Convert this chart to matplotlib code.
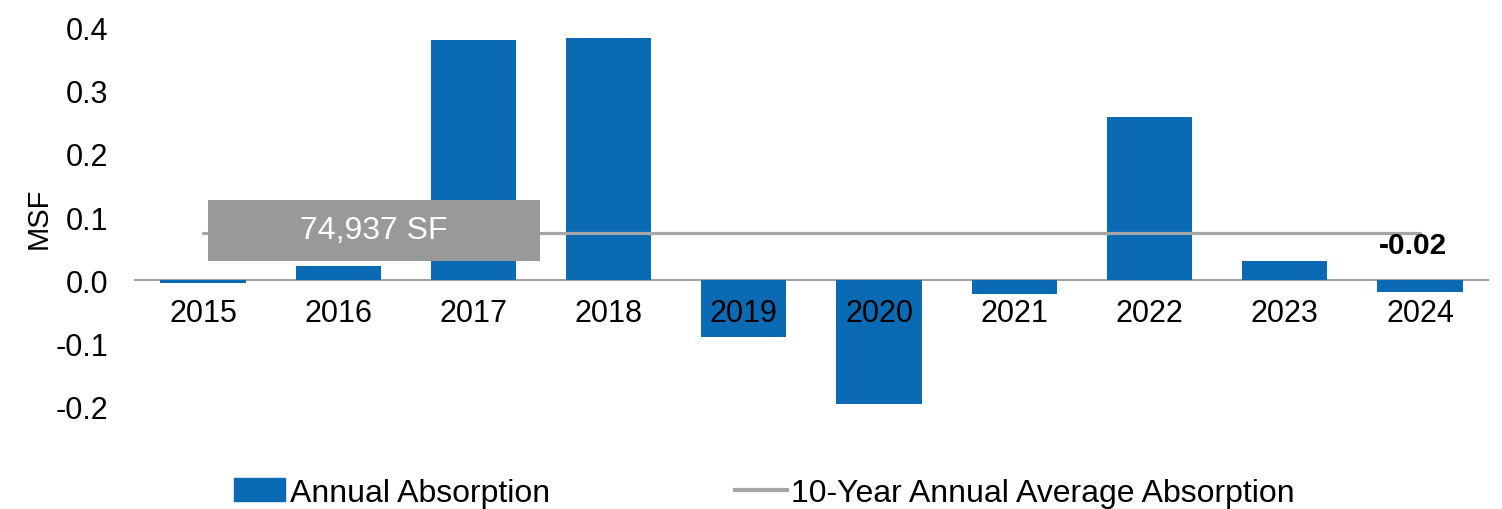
import matplotlib.pyplot as plt
import matplotlib.patches as mpatches
from matplotlib.lines import Line2D
import numpy as np

plt.rcParams['font.family'] = ['Liberation Sans', 'DejaVu Sans']

years = ['2015', '2016', '2017', '2018', '2019', '2020', '2021', '2022', '2023', '2024']
absorption = [-0.004, 0.023, 0.379, 0.382, -0.090, -0.196, -0.022, 0.258, 0.031, -0.018]
avg_sf = 74937
avg_msf = avg_sf / 1e6

blue = '#0A6AB4'
gray = '#A6A6A6'

fig = plt.figure(figsize=(15.02, 5.10), dpi=100)
ax = fig.add_axes([0.0901, 0.2, 0.9003, 0.745])

x = np.arange(len(years))
ax.bar(x, absorption, width=0.63, color=blue, zorder=2)
ax.plot(x, [avg_msf] * len(x), color=gray, lw=2.3, solid_capstyle='round', zorder=3)

# label box for the average line
ax.add_patch(mpatches.Rectangle((0.04, avg_msf - 0.044), 2.45, 0.096,
                                facecolor='#999999', edgecolor='none', zorder=4))
ax.text(1.26, avg_msf + 0.004, f'{avg_sf:,} SF', color='white', fontsize=23,
        ha='center', va='center', zorder=5)

# data label for the last year
ax.text(x[-1] - 0.05, 0.033, f'{absorption[-1]:.2f}', fontsize=21.5, fontweight='bold',
        ha='center', va='bottom', zorder=5)

ax.set_xlim(-0.5, len(years) - 0.5)
ax.set_ylim(-0.2, 0.4)
ax.set_yticks([-0.2, -0.1, 0.0, 0.1, 0.2, 0.3, 0.4])
ax.set_yticklabels([f'{v:.1f}' for v in [-0.2, -0.1, 0.0, 0.1, 0.2, 0.3, 0.4]])
ax.set_xticks(x)
ax.set_xticklabels(years)
ax.set_axisbelow(False)

for s in ['top', 'right', 'left']:
    ax.spines[s].set_visible(False)
ax.spines['bottom'].set_position(('data', 0))
ax.spines['bottom'].set_color('#A0A0A0')
ax.spines['bottom'].set_linewidth(1.4)
ax.spines['bottom'].set_zorder(1)
ax.tick_params(axis='both', length=0, labelsize=22)
ax.tick_params(axis='x', pad=13)
ax.tick_params(axis='y', pad=19.5)
ax.set_ylabel('MSF', fontsize=21, labelpad=2)

handles = [mpatches.Patch(color=blue, label='Annual Absorption'),
           Line2D([0], [0], color=gray, lw=3, label='10-Year Annual Average Absorption')]
fig.legend(handles=handles, loc='lower center', bbox_to_anchor=(0.509, -0.054), ncol=2,
           frameon=False, fontsize=23, columnspacing=5.8, handlelength=1.6,
           handletextpad=0.15)

fig.savefig('out.png', dpi=100)
